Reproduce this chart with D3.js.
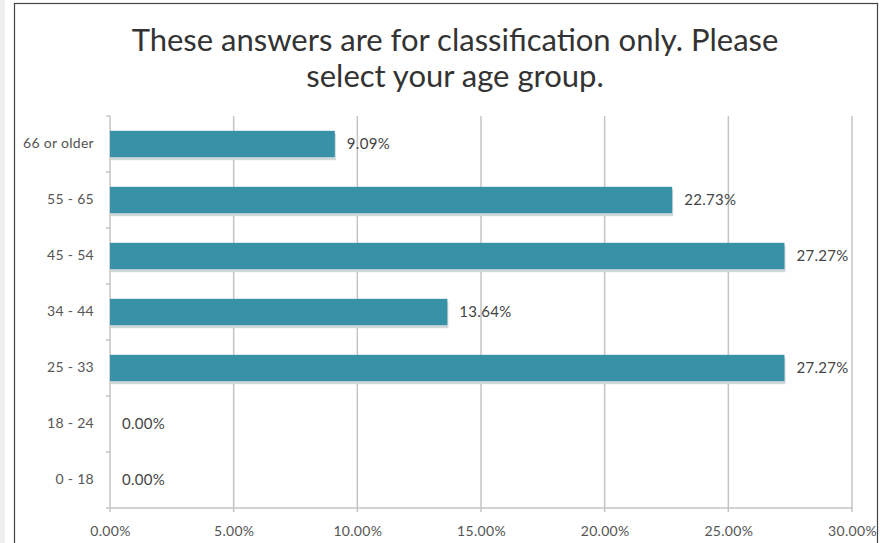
<!DOCTYPE html>
<html><head><meta charset="utf-8">
<script src="https://cdn.jsdelivr.net/npm/d3@7"></script>
<style>body{margin:0;background:#fff}svg{display:block}</style>
</head><body>
<script>
const categories = ["66 or older","55 - 65","45 - 54","34 - 44","25 - 33","18 - 24","0 - 18"];
const values = [9.09, 22.73, 27.27, 13.64, 27.27, 0, 0];
const xTicks = [0,5,10,15,20,25,30];
const titleLines = ["These answers are for classification only. Please","select your age group."];

const W = 880, H = 543;
const svg = d3.select("body").append("svg").attr("width",W).attr("height",H);
svg.append("rect").attr("x",0).attr("y",0).attr("width",5).attr("height",H).attr("fill","#eeeeee");
svg.append("rect").attr("x",14.5).attr("y",3.5).attr("width",863).attr("height",H).attr("fill","#fff").attr("stroke","#444").attr("stroke-width",1.2);

const m = {l:110, r:852, t:116, b:508};
const x = d3.scaleLinear().domain([0,30]).range([m.l,m.r]);
const y = d3.scaleBand().domain(categories).range([m.t,m.b]).paddingInner(0.53).paddingOuter(0.265);
const band = d3.scaleBand().domain(categories).range([m.t,m.b]);
const FONT = "Lato, sans-serif";

// grid
svg.append("g").selectAll("line").data(xTicks).join("line")
  .attr("x1",d=>x(d)).attr("x2",d=>x(d)).attr("y1",m.t).attr("y2",m.b+4)
  .attr("stroke","#c4c4c4").attr("stroke-width",1.5);
// x axis line
svg.append("line").attr("x1",m.l).attr("x2",m.r).attr("y1",m.b).attr("y2",m.b).attr("stroke","#c4c4c4").attr("stroke-width",1.5);
// y tick marks
const yt = d3.range(categories.length+1).map(i=>m.t+i*band.step());
svg.append("g").selectAll("line").data(yt).join("line")
  .attr("x1",m.l-4).attr("x2",m.l).attr("y1",d=>d).attr("y2",d=>d).attr("stroke","#c4c4c4").attr("stroke-width",1.5);

// x labels
const xAxis = d3.axisBottom(x).tickValues(xTicks).tickFormat(d=>d.toFixed(2)+"%").tickSize(0).tickPadding(0);
const gx = svg.append("g").attr("transform",`translate(0,${m.b})`).call(xAxis);
gx.select(".domain").remove();
gx.selectAll("text").attr("dy",null).attr("y",28).attr("font-family",FONT).attr("font-size",14)
  .attr("letter-spacing",0.3).attr("fill","#555");

// y labels
const yAxis = d3.axisLeft(band).tickSize(0).tickPadding(0);
const gy = svg.append("g").attr("transform",`translate(${m.l-16},0)`).call(yAxis);
gy.select(".domain").remove();
gy.selectAll("text").attr("font-family",FONT).attr("font-size",14).attr("letter-spacing",0.3).attr("fill","#555");

// bars shadow
const data = categories.map((c,i)=>({c,v:values[i]}));
svg.append("g").selectAll("rect").data(data.filter(d=>d.v>0)).join("rect")
  .attr("x",m.l+1).attr("y",d=>y(d.c)+3).attr("width",d=>x(d.v)-m.l).attr("height",y.bandwidth())
  .attr("fill","#cfd8da");
svg.append("g").selectAll("rect").data(data.filter(d=>d.v>0)).join("rect")
  .attr("x",m.l).attr("y",d=>y(d.c)).attr("width",d=>x(d.v)-m.l).attr("height",y.bandwidth())
  .attr("fill","#3791a7");

// value labels
svg.append("g").selectAll("text").data(data).join("text")
  .attr("x",d=>x(d.v)+12).attr("y",d=>band(d.c)+band.bandwidth()/2).attr("dy","0.35em")
  .attr("font-family",FONT).attr("font-size",15).attr("letter-spacing",0.3).attr("fill","#444")
  .text(d=>d.v.toFixed(2)+"%");

// title
svg.append("g").selectAll("text").data(titleLines).join("text")
  .attr("x",455).attr("y",(d,i)=>51+i*36).attr("text-anchor","middle")
  .attr("font-family",FONT).attr("font-size",31).attr("fill","#333")
  .text(d=>d);
</script>
</body></html>
